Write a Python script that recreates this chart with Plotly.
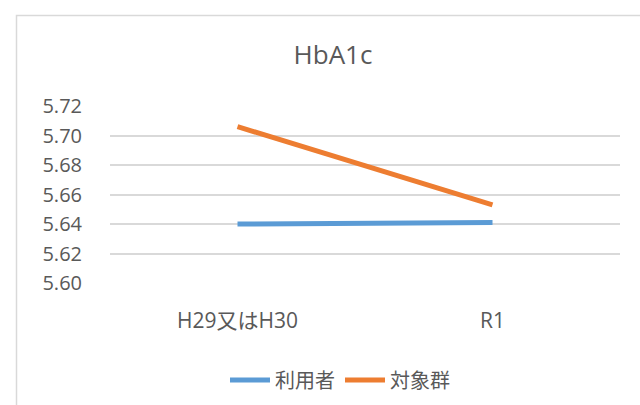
import plotly.graph_objects as go

# HbA1c averages by period
categories = ["H29又はH30", "R1"]
users = [5.640, 5.641]        # 利用者
targets = [5.706, 5.653]      # 対象群
y_ticks = [5.60, 5.62, 5.64, 5.66, 5.68, 5.70, 5.72]

TEXT = "#595959"
FONT = "Open Sans, Noto Sans CJK JP, sans-serif"

fig = go.Figure()
fig.add_trace(go.Scatter(
    x=categories, y=users, name="利用者", mode="lines",
    line=dict(color="#5B9BD5", width=5),
))
fig.add_trace(go.Scatter(
    x=categories, y=targets, name="対象群", mode="lines",
    line=dict(color="#ED7D31", width=5),
))

L, R, T, B = 110, 20, 106, 122
W, H = 640, 405
pw, ph = W - L - R, H - T - B

fig.update_layout(
    width=W, height=H,
    margin=dict(l=L, r=R, t=T, b=B, autoexpand=False),
    paper_bgcolor="white", plot_bgcolor="white",
    font=dict(family=FONT, color=TEXT, size=20),
    title=dict(text="HbA1c", x=333 / W, xanchor="center",
               y=1 - 55 / H, yanchor="middle",
               font=dict(size=26, color=TEXT, family=FONT)),
    showlegend=True,
    legend=dict(orientation="h", x=0.5 + (340 - 365) / pw, xanchor="center",
                y=-(380 - (T + ph)) / ph, yanchor="middle",
                font=dict(size=20, color=TEXT), itemwidth=40),
    xaxis=dict(
        type="category", showgrid=False, zeroline=False, showline=False,
        ticks="", ticklabelstandoff=23, range=[-0.5, 1.5], automargin=False,
        tickfont=dict(size=21, color=TEXT),
    ),
    yaxis=dict(
        range=[5.60, 5.72], tickvals=y_ticks,
        ticktext=[f"{v:.2f}" for v in y_ticks],
        showgrid=True, gridcolor="#D9D9D9", gridwidth=1.5,
        zeroline=False, showline=False, ticks="", automargin=False,
        ticklabelstandoff=27, tickfont=dict(size=20, color=TEXT),
    ),
    shapes=[dict(
        type="rect", xref="paper", yref="paper",
        x0=(16.5 - L) / pw, x1=(W + 20 - L) / pw,
        y0=-(H + 20 - (T + ph)) / ph, y1=1 + (T - 15.5) / ph,
        line=dict(color="#D9D9D9", width=1.5), fillcolor="rgba(0,0,0,0)",
        layer="below",
    )],
)

fig.write_html("out.html")
